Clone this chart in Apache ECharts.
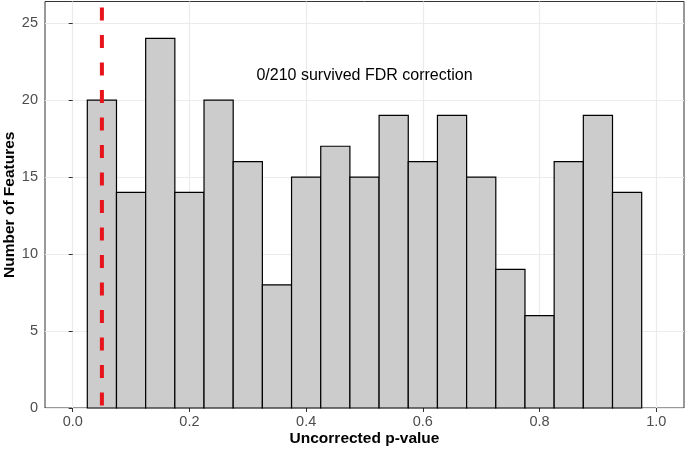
<!DOCTYPE html>
<html>
<head>
<meta charset="utf-8">
<script src="https://cdn.jsdelivr.net/npm/echarts@6/dist/echarts.min.js"></script>
<style>
html,body{margin:0;padding:0;background:#fff;}
#chart{width:685px;height:450px;}
</style>
</head>
<body>
<div id="chart"></div>
<script>
// Histogram bins (left/right edges) and counts
const binStart = [0.025,0.075,0.125,0.175,0.225,0.275,0.325,0.375,0.425,0.475,0.525,0.575,0.625,0.675,0.725,0.775,0.825,0.875,0.925];
const binEnd   = [0.075,0.125,0.175,0.225,0.275,0.325,0.375,0.425,0.475,0.525,0.575,0.625,0.675,0.725,0.775,0.825,0.875,0.925,0.975];
const counts   = [20,14,24,14,20,16,8,15,17,15,19,16,19,15,9,6,16,19,14];
const xTicks = [0, 0.2, 0.4, 0.6, 0.8, 1.0];
const yTicks = [0, 5, 10, 15, 20, 25];
const thresholdX = 0.05;
const annotation = { x: 0.5, y: 21.6, text: '0/210 survived FDR correction' };

const FONT = '"Liberation Sans", Arial, Helvetica, sans-serif';
const chart = echarts.init(document.getElementById('chart'), null, {renderer: 'canvas'});

const histData = binStart.map((s, i) => [s, binEnd[i], counts[i]]);

const option = {
  backgroundColor: '#ffffff',
  animation: false,
  grid: { left: 45, right: 1, top: 1.5, bottom: 42, containLabel: false, outerBoundsMode: 'none',
          show: true, borderColor: '#333333', borderWidth: 1 },
  xAxis: {
    type: 'value', min: -0.0475, max: 1.0475,
    name: 'Uncorrected p-value', nameLocation: 'middle', nameGap: 23, nameMoveOverlap: false,
    nameTextStyle: { fontFamily: FONT, fontSize: 15.5, fontWeight: 'bold', color: '#000' },
    axisLine: { show: false },
    axisTick: { show: true, length: 4, lineStyle: { color: '#333333', width: 1 }, customValues: xTicks },
    axisLabel: { fontFamily: FONT, fontSize: 14.5, color: '#4d4d4d', margin: 6,
      customValues: xTicks, formatter: v => v.toFixed(1) },
    splitLine: { show: true, lineStyle: { color: '#ebebeb', width: 1.2 } }
  },
  yAxis: {
    type: 'value', min: 0, max: 26.4,
    name: 'Number of Features', nameLocation: 'middle', nameGap: 27, nameMoveOverlap: false,
    nameTextStyle: { fontFamily: FONT, fontSize: 15.5, fontWeight: 'bold', color: '#000' },
    axisLine: { show: false },
    axisTick: { show: true, length: 4, lineStyle: { color: '#333333', width: 1 }, customValues: yTicks },
    axisLabel: { fontFamily: FONT, fontSize: 14.5, color: '#4d4d4d', margin: 7, customValues: yTicks },
    splitLine: { show: true, lineStyle: { color: '#ebebeb', width: 1.2 } }
  },
  series: [
    {
      type: 'custom',
      data: histData,
      encode: { x: [0, 1], y: 2 },
      renderItem: function (params, api) {
        const p0 = api.coord([api.value(0), 0]);
        const p1 = api.coord([api.value(1), api.value(2)]);
        return {
          type: 'rect',
          shape: { x: p0[0], y: p1[1], width: p1[0] - p0[0], height: p0[1] - p1[1] },
          style: { fill: '#cccccc', stroke: '#000000', lineWidth: 1.2 }
        };
      },
      z: 2
    },
    {
      type: 'custom',
      data: [[thresholdX]],
      renderItem: function (params, api) {
        const top = api.coord([api.value(0), 26.4]);
        const bot = api.coord([api.value(0), 0]);
        return {
          type: 'line',
          shape: { x1: top[0], y1: top[1] + 6, x2: bot[0], y2: bot[1] },
          style: { stroke: '#e8141c', lineWidth: 4, lineDash: [13, 14.5] }
        };
      },
      z: 5
    },
    {
      type: 'custom',
      data: [[annotation.x, annotation.y]],
      renderItem: function (params, api) {
        const p = api.coord([api.value(0), api.value(1)]);
        return {
          type: 'text',
          x: p[0], y: p[1],
          style: { text: annotation.text, fontFamily: FONT, fontSize: 16, fill: '#000',
                   align: 'center', verticalAlign: 'middle' }
        };
      },
      z: 6
    }
  ]
};
chart.setOption(option);
</script>
</body>
</html>
